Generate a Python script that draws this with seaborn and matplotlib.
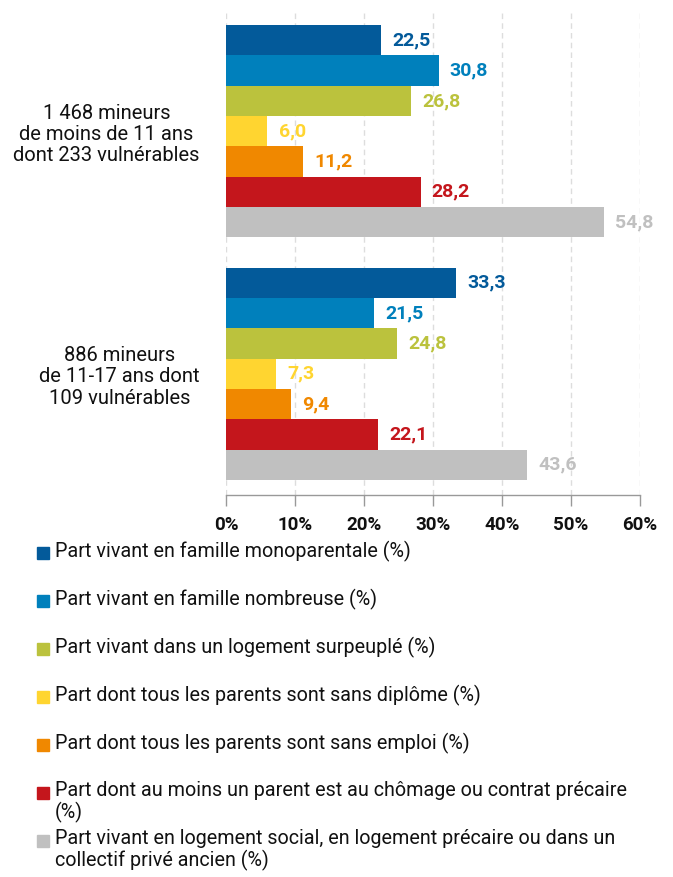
import matplotlib
matplotlib.use("Agg")
import matplotlib.pyplot as plt
import seaborn as sns
import pandas as pd
from matplotlib.patches import Rectangle

groups = ["1 468 mineurs\nde moins de 11 ans\ndont 233 vulnérables",
          "886 mineurs\nde 11-17 ans dont\n109 vulnérables"]
series = ["Part vivant en famille monoparentale (%)",
          "Part vivant en famille nombreuse (%)",
          "Part vivant dans un logement surpeuplé (%)",
          "Part dont tous les parents sont sans diplôme (%)",
          "Part dont tous les parents sont sans emploi (%)",
          "Part dont au moins un parent est au chômage ou contrat précaire\n(%)",
          "Part vivant en logement social, en logement précaire ou dans un\ncollectif privé ancien (%)"]
values_g1 = [22.5, 30.8, 26.8, 6.0, 11.2, 28.2, 54.8]
values_g2 = [33.3, 21.5, 24.8, 7.3, 9.4, 22.1, 43.6]
colors = ["#035A9A", "#0080BC", "#BBC23D", "#FFD530", "#F08800", "#C4161C", "#C0C0C0"]
xticks = [0, 10, 20, 30, 40, 50, 60]
xtick_labels = ["0%", "10%", "20%", "30%", "40%", "50%", "60%"]

rows = []
for g, vals in zip(groups, [values_g1, values_g2]):
    for s, v in zip(series, vals):
        rows.append({"group": g, "series": s, "value": v})
df = pd.DataFrame(rows)

sns.set_theme(style="white")
plt.rcParams["font.family"] = ["Roboto", "DejaVu Sans"]

fig = plt.figure(figsize=(6.73, 8.77), dpi=100)
ax = fig.add_axes([226/673, 1-495/877, (640-226)/673, (495-10)/877])

sns.barplot(data=df, y="group", x="value", hue="series", palette=colors,
            orient="h", width=0.875, dodge=True, ax=ax, legend=False,
            saturation=1, linewidth=0)

for cont, col in zip(ax.containers, colors):
    labs = [f"{b.get_width():.1f}".replace(".", ",") for b in cont]
    ax.bar_label(cont, labels=labs, padding=8, color=col,
                 fontsize=14, fontweight="bold")

ax.set_xlim(0, 60)
ax.set_ylim(1.5, -0.5)
ax.set_xticks(xticks)
ax.set_xticklabels(xtick_labels, fontsize=13.5, fontweight="bold", color="#111111")
ax.set_xlabel("")
ax.set_ylabel("")
ax.tick_params(axis="y", length=0, pad=19, labelsize=14.5)
for t in ax.get_yticklabels():
    t.set_multialignment("center")
    t.set_color("#111111")
    t.set_linespacing(1.15)
ax.tick_params(axis="x", bottom=True, length=8, width=1, color="#999999",
               pad=7, direction="out")
ax.xaxis.grid(True, linestyle=(0, (4, 3)), color="#DDDDDD", linewidth=1)
ax.set_axisbelow(True)
for side in ["top", "right", "left"]:
    ax.spines[side].set_visible(False)
ax.spines["bottom"].set_color("#999999")
ax.spines["bottom"].set_linewidth(1)

# Legend
for i, (s, c) in enumerate(zip(series, colors)):
    ycenter = 553 + 48 * i
    fig.patches.append(Rectangle((37/673, 1-(ycenter+6)/877), 12/673, 12/877,
                                 transform=fig.transFigure, color=c, figure=fig))
    fig.text(55/673, 1-(ycenter-12)/877, s, ha="left", va="top",
             fontsize=14.2, color="#111111", linespacing=1.1)

fig.savefig("out.png", dpi=100)
